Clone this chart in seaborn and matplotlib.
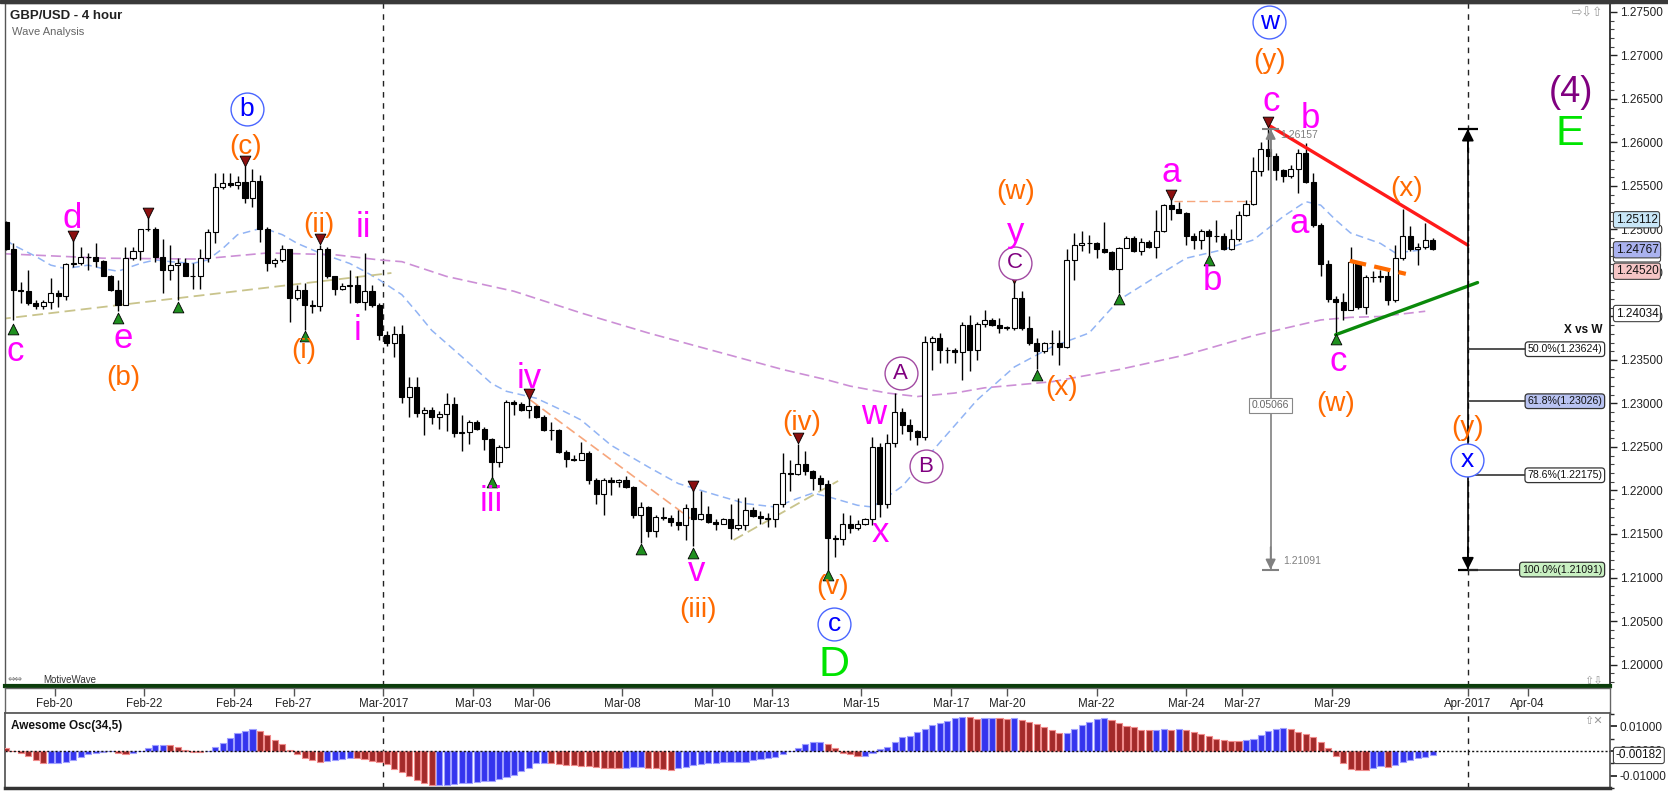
import numpy as np
import matplotlib
matplotlib.use("Agg")
import matplotlib.pyplot as plt
import seaborn as sns
from matplotlib.ticker import FormatStrFormatter, MultipleLocator
from matplotlib.patches import Rectangle

# ---- GBP/USD 4h bars (bar 0 = first bar on screen) ----
open_first = 1.2509
close = [
    1.2478, 1.2430, 1.2429, 1.2415, 1.2412, 1.2417, 1.2427, 1.2424, 1.2460, 1.2461,
    1.2468, 1.2468, 1.2464, 1.2447, 1.2430, 1.2413, 1.2467, 1.2475, 1.2500, 1.2501,
    1.2468, 1.2453, 1.2459, 1.2461, 1.2447, 1.2446, 1.2467, 1.2497, 1.2549, 1.2553,
    1.2551, 1.2554, 1.2536, 1.2556, 1.2501, 1.2461, 1.2465, 1.2477, 1.2421, 1.2431,
    1.2413, 1.2412, 1.2477, 1.2446, 1.2432, 1.2435, 1.2436, 1.2417, 1.2429, 1.2413,
    1.2379, 1.2369, 1.2380, 1.2308, 1.2319, 1.2289, 1.2293, 1.2285, 1.2288, 1.2299,
    1.2266, 1.2267, 1.2279, 1.2271, 1.2259, 1.2233, 1.2250, 1.2302, 1.2299, 1.2293,
    1.2297, 1.2285, 1.2270, 1.2269, 1.2244, 1.2236, 1.2235, 1.2243, 1.2212, 1.2196,
    1.2212, 1.2210, 1.2212, 1.2204, 1.2172, 1.2181, 1.2154, 1.2170, 1.2168, 1.2164,
    1.2160, 1.2180, 1.2167, 1.2173, 1.2164, 1.2162, 1.2167, 1.2157, 1.2160, 1.2178,
    1.2171, 1.2168, 1.2167, 1.2184, 1.2220, 1.2219, 1.2231, 1.2222, 1.2214, 1.2208,
    1.2145, 1.2144, 1.2162, 1.2157, 1.2162, 1.2167, 1.2250, 1.2185, 1.2255, 1.2290,
    1.2275, 1.2268, 1.2262, 1.2371, 1.2375, 1.2361, 1.2361, 1.2359, 1.2390, 1.2361,
    1.2391, 1.2396, 1.2390, 1.2387, 1.2387, 1.2421, 1.2387, 1.2369, 1.2360, 1.2369,
    1.2369, 1.2365, 1.2465, 1.2482, 1.2484, 1.2485, 1.2477, 1.2474, 1.2455, 1.2479,
    1.2490, 1.2475, 1.2486, 1.2480, 1.2498, 1.2528, 1.2524, 1.2519, 1.2493, 1.2488,
    1.2498, 1.2493, 1.2492, 1.2477, 1.2489, 1.2517, 1.2529, 1.2567, 1.2593, 1.2585,
    1.2568, 1.2561, 1.2569, 1.2588, 1.2555, 1.2505, 1.2460, 1.2420, 1.2417, 1.2408,
    1.2463, 1.2411, 1.2445, 1.2445, 1.2447, 1.2419, 1.2467, 1.2493, 1.2477, 1.2480,
    1.2488, 1.2477,
]
high = [
    1.2510, 1.2484, 1.2440, 1.2454, 1.2419, 1.2419, 1.2444, 1.2431, 1.2461, 1.2488,
    1.2480, 1.2473, 1.2484, 1.2465, 1.2448, 1.2442, 1.2480, 1.2480, 1.2500, 1.2515,
    1.2503, 1.2489, 1.2482, 1.2467, 1.2467, 1.2461, 1.2478, 1.2500, 1.2565, 1.2565,
    1.2565, 1.2561, 1.2573, 1.2569, 1.2563, 1.2503, 1.2467, 1.2482, 1.2478, 1.2436,
    1.2438, 1.2419, 1.2482, 1.2480, 1.2447, 1.2438, 1.2453, 1.2446, 1.2473, 1.2436,
    1.2415, 1.2383, 1.2389, 1.2390, 1.2331, 1.2331, 1.2296, 1.2296, 1.2291, 1.2312,
    1.2308, 1.2287, 1.2281, 1.2281, 1.2273, 1.2260, 1.2252, 1.2304, 1.2304, 1.2302,
    1.2306, 1.2298, 1.2287, 1.2279, 1.2271, 1.2246, 1.2241, 1.2256, 1.2245, 1.2214,
    1.2214, 1.2215, 1.2213, 1.2217, 1.2205, 1.2187, 1.2182, 1.2172, 1.2181, 1.2172,
    1.2178, 1.2185, 1.2201, 1.2199, 1.2182, 1.2167, 1.2168, 1.2184, 1.2191, 1.2192,
    1.2181, 1.2176, 1.2174, 1.2185, 1.2243, 1.2235, 1.2254, 1.2245, 1.2223, 1.2218,
    1.2212, 1.2149, 1.2174, 1.2172, 1.2166, 1.2168, 1.2262, 1.2255, 1.2265, 1.2312,
    1.2295, 1.2282, 1.2270, 1.2378, 1.2377, 1.2381, 1.2365, 1.2364, 1.2394, 1.2402,
    1.2394, 1.2408, 1.2398, 1.2398, 1.2389, 1.2440, 1.2429, 1.2400, 1.2375, 1.2371,
    1.2385, 1.2385, 1.2477, 1.2496, 1.2498, 1.2494, 1.2486, 1.2509, 1.2475, 1.2480,
    1.2493, 1.2492, 1.2490, 1.2488, 1.2522, 1.2529, 1.2536, 1.2532, 1.2520, 1.2496,
    1.2501, 1.2501, 1.2511, 1.2496, 1.2500, 1.2521, 1.2534, 1.2583, 1.2601, 1.26157,
    1.2588, 1.2570, 1.2574, 1.2593, 1.2599, 1.2565, 1.2507, 1.2465, 1.2423, 1.2427,
    1.2480, 1.2463, 1.2448, 1.2452, 1.2453, 1.2452, 1.2482, 1.2524, 1.2504, 1.2484,
    1.2508, 1.2490,
]
low = [
    1.2476, 1.2396, 1.2415, 1.2413, 1.2409, 1.2409, 1.2409, 1.2411, 1.2419, 1.2457,
    1.2459, 1.2454, 1.2457, 1.2446, 1.2429, 1.2406, 1.2413, 1.2465, 1.2465, 1.2498,
    1.2463, 1.2427, 1.2442, 1.2419, 1.2446, 1.2432, 1.2432, 1.2463, 1.2484, 1.2547,
    1.2549, 1.2547, 1.2530, 1.2526, 1.2486, 1.2452, 1.2457, 1.2463, 1.2394, 1.2419,
    1.2385, 1.2404, 1.2406, 1.2444, 1.2425, 1.2431, 1.2415, 1.2415, 1.2408, 1.2411,
    1.2373, 1.2366, 1.2354, 1.2300, 1.2285, 1.2285, 1.2264, 1.2277, 1.2271, 1.2268,
    1.2262, 1.2245, 1.2254, 1.2270, 1.2246, 1.2216, 1.2227, 1.2249, 1.2287, 1.2291,
    1.2283, 1.2283, 1.2268, 1.2258, 1.2243, 1.2227, 1.2234, 1.2237, 1.2208, 1.2185,
    1.2172, 1.2195, 1.2204, 1.2203, 1.2168, 1.2140, 1.2147, 1.2147, 1.2166, 1.2159,
    1.2155, 1.2143, 1.2136, 1.2166, 1.2163, 1.2155, 1.2161, 1.2144, 1.2155, 1.2155,
    1.2170, 1.2161, 1.2158, 1.2158, 1.2181, 1.2199, 1.2218, 1.2218, 1.2201, 1.2201,
    1.2109, 1.2124, 1.2137, 1.2151, 1.2155, 1.2160, 1.2160, 1.2170, 1.2180, 1.2250,
    1.2265, 1.2258, 1.2252, 1.2258, 1.2339, 1.2346, 1.2346, 1.2346, 1.2327, 1.2337,
    1.2350, 1.2388, 1.2389, 1.2381, 1.2385, 1.2385, 1.2385, 1.2367, 1.2340, 1.2358,
    1.2356, 1.2344, 1.2364, 1.2442, 1.2475, 1.2473, 1.2467, 1.2473, 1.2454, 1.2427,
    1.2479, 1.2474, 1.2471, 1.2479, 1.2467, 1.2497, 1.2511, 1.2519, 1.2482, 1.2477,
    1.2477, 1.2471, 1.2486, 1.2476, 1.2476, 1.2487, 1.2515, 1.2528, 1.2562, 1.2568,
    1.2557, 1.2555, 1.2559, 1.2542, 1.2553, 1.2503, 1.2446, 1.2417, 1.2381, 1.2396,
    1.2407, 1.2409, 1.2403, 1.2440, 1.2440, 1.2413, 1.2417, 1.2465, 1.2475, 1.2459,
    1.2478, 1.2476,
]

# Awesome Oscillator (34,5), one value per bar
ao = [
    0.0011, -0.0002, -0.0010, -0.0020, -0.0037, -0.0050, -0.0049, -0.0048, -0.0044, -0.0035,
    -0.0024, -0.0014, -0.0007, -0.0003, -0.0001, -0.0010, -0.0011, -0.0009, -0.0001, 0.0011,
    0.0024, 0.0025, 0.0024, 0.0015, 0.0004, -0.0004, -0.0005, -0.0001, 0.0015, 0.0032,
    0.0051, 0.0072, 0.0083, 0.0088, 0.0082, 0.0064, 0.0043, 0.0028, 0.0003, -0.0014,
    -0.0029, -0.0037, -0.0043, -0.0040, -0.0037, -0.0033, -0.0029, -0.0030, -0.0033, -0.0040,
    -0.0046, -0.0054, -0.0072, -0.0086, -0.0104, -0.0118, -0.0132, -0.0139, -0.0138, -0.0137,
    -0.0135, -0.0132, -0.0129, -0.0125, -0.0124, -0.0121, -0.0114, -0.0106, -0.0096, -0.0083,
    -0.0068, -0.0051, -0.0049, -0.0050, -0.0052, -0.0056, -0.0058, -0.0060, -0.0062, -0.0067,
    -0.0068, -0.0070, -0.0071, -0.0069, -0.0066, -0.0065, -0.0068, -0.0069, -0.0072, -0.0076,
    -0.0071, -0.0064, -0.0057, -0.0053, -0.0051, -0.0049, -0.0046, -0.0045, -0.0044, -0.0043,
    -0.0037, -0.0033, -0.0030, -0.0026, -0.0014, -0.0002, 0.0011, 0.0028, 0.0035, 0.0036,
    0.0028, 0.0011, -0.0007, -0.0012, -0.0021, -0.0020, -0.0007, 0.0007, 0.0015, 0.0036,
    0.0056, 0.0063, 0.0076, 0.0090, 0.0107, 0.0115, 0.0122, 0.0136, 0.0140, 0.0137,
    0.0132, 0.0133, 0.0136, 0.0133, 0.0132, 0.0133, 0.0128, 0.0120, 0.0110, 0.0097,
    0.0086, 0.0074, 0.0075, 0.0090, 0.0106, 0.0118, 0.0132, 0.0136, 0.0125, 0.0114,
    0.0101, 0.0097, 0.0087, 0.0086, 0.0087, 0.0088, 0.0086, 0.0090, 0.0086, 0.0078,
    0.0069, 0.0061, 0.0050, 0.0043, 0.0042, 0.0039, 0.0043, 0.0050, 0.0067, 0.0082,
    0.0090, 0.0094, 0.0090, 0.0078, 0.0069, 0.0056, 0.0036, 0.0013, -0.0021, -0.0050,
    -0.0072, -0.0076, -0.0079, -0.0068, -0.0062, -0.0065, -0.0058, -0.0044, -0.0037, -0.0030,
    -0.0024, -0.0018,
]

# moving averages, sampled along the dashed curves
blue_ma_x = [0, 1, 4, 6, 8, 11, 13, 15, 18, 20, 22, 25, 27, 29, 31, 34, 35, 37, 39, 42,
             44, 46, 48, 50, 53, 55, 57, 61, 65, 67, 68, 71, 74, 77, 81, 86, 90, 95, 99,
             103, 106, 108, 110, 114, 116, 120, 125, 130, 135, 140, 145, 149, 154, 158,
             163, 167, 171, 174, 176, 178, 180, 182, 184, 186, 189, 191]
blue_ma_y = [1.2488, 1.2482, 1.2469, 1.2459, 1.2455, 1.2459, 1.2455, 1.2452, 1.2461, 1.2465,
             1.2463, 1.2461, 1.2465, 1.2478, 1.2494, 1.2501, 1.2500, 1.2494, 1.2484, 1.2473,
             1.2467, 1.2461, 1.2452, 1.2442, 1.2425, 1.2405, 1.2384, 1.2354, 1.2323, 1.2314,
             1.2312, 1.2306, 1.2294, 1.2281, 1.2252, 1.2227, 1.2208, 1.2195, 1.2185,
             1.2181, 1.2191, 1.2197, 1.2193, 1.2183, 1.2181, 1.2205, 1.2255, 1.2304, 1.2342,
             1.2365, 1.2381, 1.2419, 1.2446, 1.2467, 1.2477, 1.2488, 1.2515, 1.2532, 1.2528,
             1.2511, 1.2496, 1.2490, 1.2484, 1.2473, 1.2476, 1.2482]
purple_ma_x = [0, 13, 26, 35, 44, 48, 50, 53, 59, 68, 77, 86, 95, 104, 110, 113, 118, 122,
               127, 131, 140, 149, 158, 167, 171, 176, 180, 184, 190]
purple_ma_y = [1.2472, 1.2467, 1.2466, 1.2473, 1.2471, 1.2467, 1.2465, 1.2463, 1.2446, 1.2429,
               1.2404, 1.2381, 1.2360, 1.2339, 1.2327, 1.2320, 1.2312, 1.2308, 1.2312, 1.2318,
               1.2325, 1.2339, 1.2356, 1.2378, 1.2386, 1.2396, 1.2399, 1.2400, 1.2406]

# drawn trend lines: (x0, y0, x1, y1)
tan_lines = [(-0.8, 1.2397, 51.6, 1.2450), (97.4, 1.2143, 111.4, 1.2211)]
salmon_line = (70.2, 1.2304, 91.6, 1.2168)
orange_flat = (156.3, 1.2533, 167.4, 1.2533)
orange_thick = (179.9, 1.2464, 187.4, 1.2449)
red_line = (169.2, 1.2619, 195.7, 1.2482)
green_line = (178.0, 1.2379, 197.0, 1.2439)

# swing markers
swing_low_x = [1, 15, 23, 40, 65, 85, 92, 110, 138, 149, 161, 178]
swing_low_y = [1.2386, 1.2398, 1.2411, 1.2378, 1.2210, 1.2133, 1.2128, 1.2103, 1.2333, 1.2420, 1.2465, 1.2374]
swing_high_x = [9, 19, 32, 42, 70, 92, 106, 135, 156, 169]
swing_high_y = [1.2492, 1.2519, 1.2579, 1.2489, 1.2311, 1.2205, 1.2260, 1.2444, 1.2540, 1.2624]

# wave labels: text, bar, price, kind
labels = [
    ('c', 1.2, 1.2360, 'mag'), ('d', 8.9, 1.2513, 'mag'), ('e', 15.7, 1.2375, 'mag'),
    ('(b)', 15.7, 1.2329, 'ora'), ('b', 32.2, 1.2638, 'bluec'), ('(c)', 32.1, 1.2595, 'ora'),
    ('(ii)', 41.9, 1.2505, 'ora'), ('ii', 47.9, 1.2502, 'mag'), ('(i)', 39.9, 1.2360, 'ora'),
    ('i', 47.0, 1.2384, 'mag'), ('iv', 70.0, 1.2329, 'mag'), ('iii', 65.0, 1.2187, 'mag'),
    ('v', 92.5, 1.2107, 'mag'), ('(iii)', 92.6, 1.2063, 'ora'), ('(iv)', 106.5, 1.2278, 'ora'),
    ('(v)', 110.7, 1.2089, 'ora'), ('c', 110.9, 1.2047, 'bluec'), ('D', 110.9, 1.1999, 'grn'),
    ('w', 116.2, 1.2287, 'mag'), ('x', 117.1, 1.2152, 'mag'), ('A', 119.8, 1.2335, 'purc'),
    ('B', 123.1, 1.2228, 'purc'), ('(w)', 135.1, 1.2543, 'ora'), ('y', 135.1, 1.2497, 'mag'),
    ('C', 135.1, 1.2462, 'purc'), ('(x)', 141.3, 1.2318, 'ora'), ('a', 156.0, 1.2565, 'mag'),
    ('b', 161.5, 1.2441, 'mag'), ('w', 169.1, 1.2739, 'bluec'), ('(y)', 169.1, 1.2694, 'ora'),
    ('c', 169.4, 1.2647, 'mag'), ('b', 174.6, 1.2628, 'mag'), ('a', 173.1, 1.2507, 'mag'),
    ('c', 178.3, 1.2348, 'mag'), ('(w)', 178.0, 1.2299, 'ora'), ('(x)', 187.5, 1.2547, 'ora'),
    ('(4)', 209.5, 1.2657, 'pur'), ('E', 209.4, 1.2610, 'grn'), ('(y)', 195.6, 1.2272, 'ora'),
    ('x', 195.6, 1.2235, 'bluec'),
]

fib_pct = ['50.0%', '61.8%', '78.6%', '100.0%']
fib_price = [1.23624, 1.23026, 1.22175, 1.21091]
fib_face = ['white', '#b9c3f2', 'white', '#c9f0c2']
swing_top, swing_bottom = 1.26157, 1.21091

price_tags = [1.24720, 1.25112, 1.24767, 1.24520, 1.24034]
tag_text = ['1.24715', '1.25112', '1.24767', '1.24520', '1.24034']
tag_face = ['white', '#c8e6f7', '#aab2ef', '#f5c5c5', 'white']
ao_last = -0.00182

date_pos = [6.5, 18.5, 30.5, 38.5, 50.5, 62.5, 70.5, 82.5, 94.5, 102.5, 114.5, 126.5,
            134, 146, 158, 165.5, 177.5, 195.7, 203.7]
date_lab = ['Feb-20', 'Feb-22', 'Feb-24', 'Feb-27', 'Mar-2017', 'Mar-03', 'Mar-06', 'Mar-08',
            'Mar-10', 'Mar-13', 'Mar-15', 'Mar-17', 'Mar-20', 'Mar-22', 'Mar-24', 'Mar-27',
            'Mar-29', 'Apr-2017', 'Apr-04']
month_lines = [50.5, 195.7]

# ---------------------------------------------------------------------------
sns.set_theme(style="white")
plt.rcParams['font.family'] = ['Liberation Sans', 'DejaVu Sans']

W, H = 1668, 791
fig = plt.figure(figsize=(W / 100, H / 100), dpi=100)


def box(x0, y0, x1, y1):
    return [x0 / W, 1 - y1 / H, (x1 - x0) / W, (y1 - y0) / H]


ax = fig.add_axes(box(5, 3, 1610, 686))
axd = fig.add_axes(box(5, 688, 1610, 713))
axo = fig.add_axes(box(5, 713, 1610, 788))
XL = (-0.13, 214.73)
for a in (ax, axd, axo):
    a.set_xlim(*XL)
    a.set_facecolor('white')

# candles
c = np.array(close)
h = np.array(high)
l = np.array(low)
o = np.r_[open_first, c[:-1]]
x = np.arange(len(c))
up = c >= o
ax.vlines(x, np.minimum(l, np.minimum(o, c)), np.maximum(h, np.maximum(o, c)),
          color='black', lw=1, zorder=3)
ax.bar(x, np.maximum(np.abs(c - o), 0.00005), bottom=np.minimum(o, c), width=0.68,
       color=np.where(up, 'white', 'black'), edgecolor='black', linewidth=0.8, zorder=4)

# moving averages
sns.lineplot(x=blue_ma_x, y=blue_ma_y, ax=ax, color='#92b4f4', lw=1.1,
             linestyle=(0, (5, 3)), zorder=2)
sns.lineplot(x=purple_ma_x, y=purple_ma_y, ax=ax, color='#cc8fd6', lw=1.2,
             linestyle=(0, (6, 3)), zorder=2)

for x0, y0, x1, y1 in tan_lines:
    ax.plot([x0, x1], [y0, y1], color='#c9c48c', lw=1.3, ls=(0, (6, 3)), zorder=2)
ax.plot(salmon_line[::2], salmon_line[1::2], color='#f7a67c', lw=1.2, ls=(0, (6, 3)), zorder=2)
ax.plot(orange_flat[::2], orange_flat[1::2], color='#f7a67c', lw=1.0, ls=(0, (6, 3)), zorder=2)
ax.plot(orange_thick[::2], orange_thick[1::2], color='#ff6a00', lw=3, ls=(0, (4, 2)), zorder=5)
ax.plot(red_line[::2], red_line[1::2], color='#ff1a1a', lw=2.4, zorder=5)
ax.plot(green_line[::2], green_line[1::2], color='#0a8a0a', lw=2.4, zorder=5)

# swing markers
ax.scatter(swing_low_x, swing_low_y, marker='^', s=60, color='#1f8f1f',
           edgecolors='black', linewidths=0.6, zorder=6)
ax.scatter(swing_high_x, swing_high_y, marker='v', s=60, color='#8b1010',
           edgecolors='black', linewidths=0.6, zorder=6)

# month separators
for xm in month_lines:
    ax.axvline(xm, color='#222222', lw=1, ls=(0, (4, 4)), zorder=1)
    axo.axvline(xm, color='#222222', lw=1, ls=(0, (4, 4)), zorder=1)

# grey swing measure at the c top
gx = 169.3
ax.vlines(gx, swing_bottom, swing_top, color='#808080', lw=1.2, zorder=5)
ax.hlines([swing_top, swing_bottom], gx - 1.1, gx + 1.1, color='#808080', lw=1.5, zorder=5)
for y0, y1 in ((1.2590, swing_top), (1.2135, swing_bottom)):
    ax.annotate('', xy=(gx, y1), xytext=(gx, y0),
                arrowprops=dict(arrowstyle='-|>,head_length=0.5,head_width=0.25',
                                color='#808080', lw=1.2, shrinkA=0, shrinkB=0), zorder=5)
ax.text(gx + 1.3, 1.2609, f'{swing_top:.5f}', fontsize=7.5, color='#808080', va='center', zorder=6)
ax.text(gx + 1.7, 1.2119, f'{swing_bottom:.5f}', fontsize=7.5, color='#808080', va='center', zorder=6)
ax.text(gx, 1.2298, f'{swing_top - swing_bottom:.5f}', fontsize=7.5, color='#666666',
        ha='center', va='center', zorder=6,
        bbox=dict(boxstyle='square,pad=0.25', fc='white', ec='#888888', lw=0.8))

# black X-vs-W projection with retracement levels
bx = 195.7
ax.vlines(bx, swing_bottom, swing_top, color='black', lw=1.2, zorder=5)
ax.hlines([swing_top, swing_bottom], bx - 1.3, bx + 1.3, color='black', lw=1.6, zorder=5)
for y0, y1 in ((1.2590, swing_top), (1.2135, swing_bottom)):
    ax.annotate('', xy=(bx, y1), xytext=(bx, y0),
                arrowprops=dict(arrowstyle='-|>,head_length=0.6,head_width=0.3',
                                color='black', lw=1.2, shrinkA=0, shrinkB=0), zorder=5)
ax.hlines(fib_price, bx, 203.7, color='#333333', lw=1.2, zorder=5)
for pct, p, fc in zip(fib_pct, fib_price, fib_face):
    ax.text(213.7, p, f'{pct}({p:.5f})', ha='right', va='center', fontsize=7.6,
            color='#111111', zorder=7,
            bbox=dict(boxstyle='round,pad=0.22,rounding_size=0.3', fc=fc, ec='#333333', lw=0.9))
ax.text(213.7, 1.23845, 'X vs W', ha='right', va='center', fontsize=8.5,
        fontweight='bold', color='#111111', zorder=7)

# wave labels
styles = {
    'mag': dict(color='#ff00ff', size=25, ring=None),
    'ora': dict(color='#ff6a00', size=20, ring=None),
    'grn': dict(color='#00e400', size=31, ring=None),
    'pur': dict(color='#800080', size=26, ring=None),
    'bluec': dict(color='#0000ff', size=19, ring='#4a66ff'),
    'purc': dict(color='#800080', size=16, ring='#a24aa2'),
}
for txt, xi, p, kind in labels:
    st = styles[kind]
    if st['ring']:
        ax.scatter([xi], [p], s=560, facecolors='white', edgecolors=st['ring'],
                   linewidths=1.0, zorder=7)
    ax.text(xi, p, txt, color=st['color'], fontsize=st['size'], ha='center',
            va='center', zorder=8)

# main axis cosmetics
ax.set_ylim(1.19753, 1.27603)
ax.yaxis.tick_right()
ax.set_yticks(np.arange(1.200, 1.2751, 0.005))
ax.yaxis.set_major_formatter(FormatStrFormatter('%.5f'))
ax.yaxis.set_minor_locator(MultipleLocator(0.001))
ax.tick_params(axis='y', which='major', right=True, left=False, length=5, width=1,
               labelsize=8.5, colors='#222222', pad=2)
ax.tick_params(axis='y', which='minor', right=True, left=False, length=3, width=0.8,
               colors='#444444')
ax.set_xticks([])
ax.set_xlabel('')
ax.set_ylabel('')
for side in ('left', 'top'):
    ax.spines[side].set_color('#555555')
    ax.spines[side].set_linewidth(1)
ax.spines['right'].set_color('#222222')
ax.spines['bottom'].set_color('#0b3d0b')
ax.spines['bottom'].set_linewidth(3)

for p, t, fc in zip(price_tags, tag_text, tag_face):
    ax.annotate(t, xy=(1.0, p), xycoords=('axes fraction', 'data'), xytext=(4, 0),
                textcoords='offset points', ha='left', va='center', fontsize=8.5,
                color='#111111', annotation_clip=False, zorder=10,
                bbox=dict(boxstyle='round,pad=0.18,rounding_size=0.2', fc=fc,
                          ec='#444444', lw=0.8))

# date strip
axd.set_ylim(0, 1)
axd.set_yticks([])
axd.set_xticks(date_pos)
axd.xaxis.tick_top()
axd.tick_params(axis='x', direction='in', length=6, width=1, top=True, bottom=False,
                labeltop=False, labelbottom=False, colors='#555555')
for xp, lab in zip(date_pos, date_lab):
    axd.text(xp, 0.36, lab, ha='center', va='center', fontsize=8.3, color='#222222',
             family=['Liberation Sans Narrow', 'Liberation Sans', 'DejaVu Sans'])
for side in axd.spines:
    axd.spines[side].set_color('#666666')
    axd.spines[side].set_linewidth(1)

# Awesome oscillator
aov = np.array(ao)
rising = np.r_[False, aov[1:] > aov[:-1]]
axo.bar(np.arange(len(aov)), aov, width=0.82,
        color=np.where(rising, '#3535ee', '#a32a2a'),
        edgecolor=np.where(rising, '#a0a0ff', '#f08c8c'), linewidth=0.8, zorder=3)
axo.axhline(0, color='#111111', lw=1, ls=(0, (1.5, 1.5)), zorder=4)
axo.set_ylim(-0.0151, 0.0155)
axo.yaxis.tick_right()
axo.set_yticks([-0.01, 0, 0.01])
axo.yaxis.set_major_formatter(FormatStrFormatter('%.5f'))
axo.yaxis.set_minor_locator(MultipleLocator(0.005))
axo.tick_params(axis='y', which='major', right=True, left=False, length=5,
                labelsize=8.5, colors='#222222', pad=2)
axo.tick_params(axis='y', which='minor', right=True, left=False, length=3)
axo.set_xticks([])
for side in axo.spines:
    axo.spines[side].set_color('#555555')
axo.spines['bottom'].set_color('#333333')
axo.spines['bottom'].set_linewidth(2.5)
axo.annotate(f'{ao_last:.5f}', xy=(1.0, ao_last), xycoords=('axes fraction', 'data'),
             xytext=(4, 0), textcoords='offset points', ha='left', va='center',
             fontsize=8.5, color='#111111', annotation_clip=False, zorder=10,
             bbox=dict(boxstyle='round,pad=0.18,rounding_size=0.2', fc='white',
                       ec='#444444', lw=0.8))
axo.text(0.004, 0.83, 'Awesome Osc(34,5)', transform=axo.transAxes, fontsize=8.5,
         fontweight='bold', color='#111111', va='center')

# chrome: top bar, titles, icons
fig.add_artist(Rectangle((0, 1 - 3 / H), 1, 3 / H, transform=fig.transFigure,
                         color='#3a3a3a', zorder=20))
fig.text(10 / W, 1 - 16 / H, 'GBP/USD - 4 hour', fontsize=9.5, fontweight='bold',
         color='#222222', va='center')
fig.text(12 / W, 1 - 32 / H, 'Wave Analysis', fontsize=8, color='#666666', va='center')
fig.text(1603 / W, 1 - 13 / H, '⇨⇩⇧', fontsize=9, color='#999999', ha='right',
         va='center', family=['DejaVu Sans'])
fig.text(1603 / W, 1 - 681 / H, '⇧⇩', fontsize=8, color='#999999', ha='right',
         va='center', family=['DejaVu Sans'])
fig.text(1603 / W, 1 - 721 / H, '⇧✕', fontsize=8, color='#999999', ha='right',
         va='center', family=['DejaVu Sans'])
fig.text(8 / W, 1 - 680 / H, '⇔⇔', fontsize=6.5, color='#777777', va='center',
         family=['DejaVu Sans'])
fig.text(43 / W, 1 - 680 / H, 'MotiveWave', fontsize=7, color='#333333', va='center')

fig.savefig('out.png', dpi=100)
